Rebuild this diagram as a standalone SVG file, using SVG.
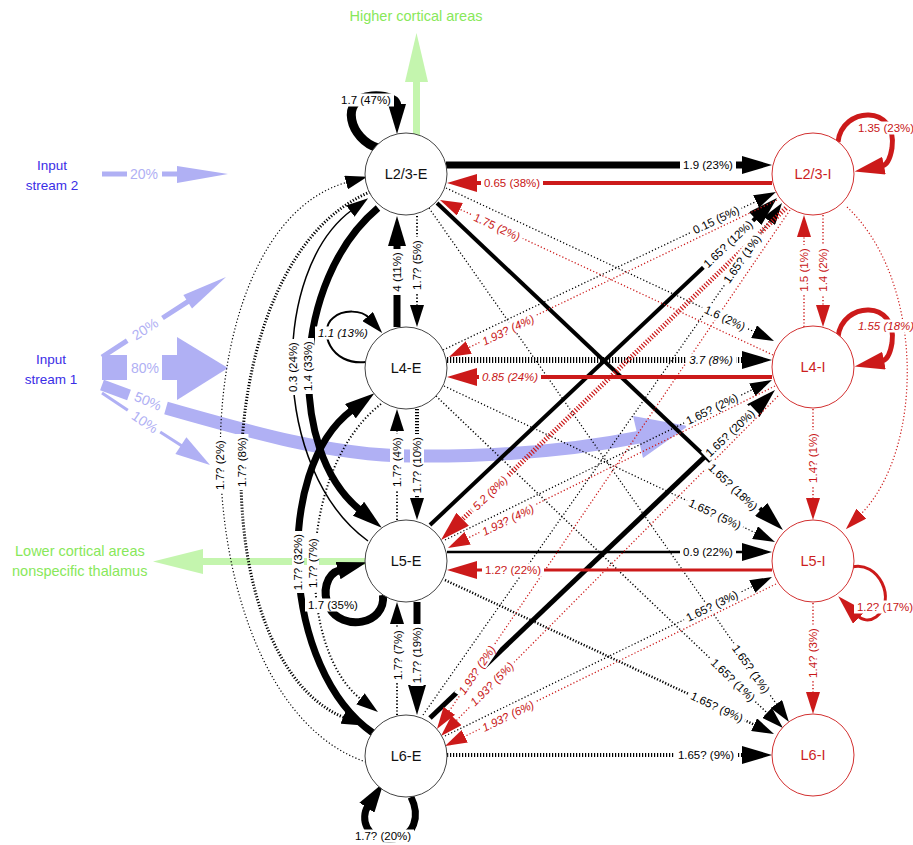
<svg xmlns="http://www.w3.org/2000/svg" width="913" height="845" viewBox="0 0 913 845">
<style>
  text { font-family: "Liberation Sans", Arial, sans-serif; }
  .nd { fill: #fff; stroke: #444; stroke-width: 1; }
  .ni { fill: #fff; stroke: #d23030; stroke-width: 1; }
  .nt { font-size: 14.5px; text-anchor: middle; fill: #111; }
  .nti { font-size: 14.5px; text-anchor: middle; fill: #cc1f1f; }
  .k { fill: none; stroke: #000; }
  .r { fill: none; stroke: #cc1a1a; }
  .dot { stroke-dasharray: 1.2 2.2; }
  .hat { stroke-dasharray: 1.2 1.8; }
  .bx { fill: #fff; }
  .lb { font-size: 11.5px; text-anchor: middle; fill: #000; }
  .lr { fill: #c81616; }
  .it { font-style: italic; }
  .lav { fill: #b0b0f4; }
  .lavs { fill: none; stroke: #b0b0f4; }
  .lavt { font-size: 14px; text-anchor: middle; fill: #b0b0f4; }
  .grn { fill: #c4f5ae; }
  .gt { font-size: 14.5px; fill: #88e85a; }
  .inp { font-size: 13.5px; text-anchor: middle; fill: #3a2ee6; }
</style>
<defs>
  <marker id="ak" viewBox="0 0 22 14" markerWidth="22" markerHeight="14" refX="2" refY="7" orient="auto" markerUnits="userSpaceOnUse"><path d="M0,0 L22,7 L0,14 z" fill="#000"/></marker>
  <marker id="akL" viewBox="0 0 30 18" markerWidth="30" markerHeight="18" refX="2" refY="9" orient="auto" markerUnits="userSpaceOnUse"><path d="M0,0 L30,9 L0,18 z" fill="#000"/></marker>
  <marker id="ar" viewBox="0 0 22 14" markerWidth="22" markerHeight="14" refX="2" refY="7" orient="auto" markerUnits="userSpaceOnUse"><path d="M0,0 L22,7 L0,14 z" fill="#cc1a1a"/></marker>
  <marker id="arL" viewBox="0 0 30 18" markerWidth="30" markerHeight="18" refX="2" refY="9" orient="auto" markerUnits="userSpaceOnUse"><path d="M0,0 L30,9 L0,18 z" fill="#cc1a1a"/></marker>
</defs>

<!-- input streams -->
<g id="inputs">
  <text class="inp" x="52" y="170">Input</text>
  <text class="inp" x="52" y="190">stream 2</text>
  <text class="inp" x="51" y="364">Input</text>
  <text class="inp" x="51" y="384">stream 1</text>
  <!-- stream 2 : 20% -->
  <rect class="lav" x="102" y="171.5" width="25" height="5"/>
  <rect class="lav" x="162" y="171.5" width="17" height="5"/>
  <polygon class="lav" points="177,166 228,174 177,183"/>
  <text class="lavt" x="144" y="174" dy=".35em">20%</text>
  <!-- stream 1 : 80% -->
  <rect class="lav" x="102" y="355" width="25" height="25"/>
  <rect class="lav" x="162" y="355" width="16" height="25"/>
  <polygon class="lav" points="177,337 228,368 177,400"/>
  <text class="lavt" x="145" y="368" dy=".35em">80%</text>
  <!-- stream 1 : 20% -->
  <path class="lavs" stroke-width="5" d="M102,357 L127.2,340.7 M162.5,318 L189.4,300.6"/>
  <polygon class="lav" points="192,308.4 226,277 183.4,295"/>
  <text class="lavt" transform="translate(145,329) rotate(-32.8)" dy=".35em">20%</text>
  <!-- stream 1 : 50% -->
  <path class="lavs" stroke-width="11" d="M102,385 L129,395"/>
  <path class="lavs" stroke-width="13" d="M166,408 C250,432 330,455 410,456 C500,457 580,449 640,437"/>
  <polygon class="lav" points="633,416 688,426 643,458"/>
  <text class="lavt" transform="translate(148,401) rotate(22)" dy=".35em">50%</text>
  <!-- stream 1 : 10% -->
  <path class="lavs" stroke-width="3" d="M102,393 L127.8,410.2 M160.2,431.9 L182,446"/>
  <polygon class="lav" points="175.4,453.9 210,465 186.4,437.3"/>
  <text class="lavt" transform="translate(145,422) rotate(33.7)" dy=".35em">10%</text>
</g>

<!-- outputs -->
<g id="outputs">
  <rect class="grn" x="413" y="80" width="7" height="56"/>
  <polygon class="grn" points="405,82 416.5,33 428,82"/>
  <text class="gt" x="416" y="21" text-anchor="middle">Higher cortical areas</text>
  <rect class="grn" x="200" y="558" width="168" height="7"/>
  <polygon class="grn" points="203,549 153,561.5 203,574"/>
  <text class="gt" x="15" y="556">Lower cortical areas</text>
  <text class="gt" x="12" y="576">nonspecific thalamus</text>
</g>

<g id="connectors">
  <!-- excitatory -> inhibitory, same layer -->
  <path class="k" stroke-width="7" d="M446,165 H744" marker-end="url(#akL)"/>
  <path class="k hat" stroke-width="6" d="M447,360 H744" marker-end="url(#akL)"/>
  <path class="k" stroke-width="2.5" d="M447,552 H744" marker-end="url(#akL)"/>
  <path class="k hat" stroke-width="4" d="M447,755 H744" marker-end="url(#akL)"/>
  <!-- excitatory column -->
  <path class="k" stroke-width="7" d="M397,327 V244" marker-end="url(#akL)"/>
  <path class="k dot" stroke-width="2" d="M417,216 V307" marker-end="url(#ak)"/>
  <path class="k dot" stroke-width="2" d="M397,520 V429" marker-end="url(#ak)"/>
  <path class="k hat" stroke-width="4" d="M417,409 V500" marker-end="url(#ak)"/>
  <path class="k dot" stroke-width="2" d="M397,715 V622" marker-end="url(#ak)"/>
  <path class="k" stroke-width="7" d="M417,602 V687" marker-end="url(#akL)"/>
  <!-- excitatory -> inhibitory, across layers -->
  <path class="k dot" stroke-width="1.3" d="M446,188 L755.9,332.5" marker-end="url(#ak)"/>
  <path class="k" stroke-width="4" d="M437,203 L762.6,510.8" marker-end="url(#akL)"/>
  <path class="k dot" stroke-width="1.3" d="M429,208 L777.5,705.6" marker-end="url(#ak)"/>
  <path class="k dot" stroke-width="1.3" d="M443,350 L757.9,200.6" marker-end="url(#ak)"/>
  <path class="k dot" stroke-width="1.3" d="M444,386 L756.9,533.5" marker-end="url(#ak)"/>
  <path class="k dot" stroke-width="1.5" d="M436,396 L768.5,714.2" marker-end="url(#ak)"/>
  <path class="k" stroke-width="4" d="M430,525 L756.6,217.2" marker-end="url(#akL)"/>
  <path class="k" stroke-width="5" d="M430,718 L754.7,409.3" marker-end="url(#akL)"/>
  <path class="k dot" stroke-width="1.3" d="M445,540 L754,388.8" marker-end="url(#ak)"/>
  <path class="k dot" stroke-width="1.3" d="M445,736 L754,585.7" marker-end="url(#ak)"/>
  <path class="k hat" stroke-width="2.5" d="M445,580 L755.9,725.5" marker-end="url(#ak)"/>
  <path class="k dot" stroke-width="1.3" d="M423,715 L770.5,219.4" marker-end="url(#ak)"/>
  <!-- long arcs on the excitatory side -->
  <path class="k" stroke-width="7" d="M378,208 C292,280 286,450 360,510" marker-end="url(#akL)"/>
  <path class="k" stroke-width="1.5" d="M368,541 C270,470 270,270 352,210" marker-end="url(#ak)"/>
  <path class="k dot" stroke-width="1.2" d="M366,762 C180,700 170,230 348,182" marker-end="url(#ak)"/>
  <path class="k hat" stroke-width="3" d="M370,192 C205,260 200,660 345,718" marker-end="url(#ak)"/>
  <path class="k" stroke-width="7" d="M373,733 C282,670 272,470 352,410" marker-end="url(#akL)"/>
  <path class="k dot" stroke-width="2" d="M381,404 C296,470 296,650 362,700" marker-end="url(#ak)"/>
  <!-- excitatory self loops -->
  <path class="k" stroke-width="9" d="M378,148 C350,140 338,98 372,96 C388,95 397,100 397,106" marker-end="url(#akL)"/>
  <path class="k" stroke-width="2" d="M366,362 C330,366 318,330 333,318 C343,309 362,310 369,318" marker-end="url(#ak)"/>
  <path class="k" stroke-width="8" d="M383,595 C386,625 342,632 329,607 C322,592 326,574 340,570" marker-end="url(#akL)"/>
  <path class="k" stroke-width="7" d="M411,797 C420,815 416,838 390,839 C366,840 360,818 368,806" marker-end="url(#akL)"/>
  <!-- inhibitory -> excitatory -->
  <path class="r" stroke-width="4" d="M772,183 H475" marker-end="url(#arL)"/>
  <path class="r" stroke-width="4" d="M772,377 H475" marker-end="url(#arL)"/>
  <path class="r" stroke-width="3" d="M772,570 H475" marker-end="url(#arL)"/>
  <path class="r dot" stroke-width="1.3" d="M773,355 L458.1,208.4" marker-end="url(#ar)"/>
  <path class="r dot" stroke-width="1.3" d="M777,200 L467,348.4" marker-end="url(#ar)"/>
  <path class="r hat" stroke-width="5" d="M786,208 L461.2,520.6" marker-end="url(#arL)"/>
  <path class="r dot" stroke-width="1.3" d="M775,386 L465.9,539.1" marker-end="url(#ar)"/>
  <path class="r dot" stroke-width="1.3" d="M790,210 L448.2,712.5" marker-end="url(#ar)"/>
  <path class="r dot" stroke-width="1.3" d="M778,396 L455.1,721.8" marker-end="url(#ar)"/>
  <path class="r dot" stroke-width="1.3" d="M776,584 L463,737.2" marker-end="url(#ar)"/>
  <!-- inhibitory column -->
  <path class="r dot" stroke-width="1.5" d="M804,327 V235" marker-end="url(#ar)"/>
  <path class="r dot" stroke-width="1.5" d="M823,215 V307" marker-end="url(#ar)"/>
  <path class="r dot" stroke-width="1.5" d="M813,409 V500" marker-end="url(#ar)"/>
  <path class="r dot" stroke-width="1.5" d="M813,603 V694" marker-end="url(#ar)"/>
  <path class="r dot" stroke-width="1.2" d="M847,207 C925,280 925,450 860,515" marker-end="url(#ar)"/>
  <!-- inhibitory self loops -->
  <path class="r" stroke-width="5" d="M838,142 C842,106 898,104 892,148 C890,160 887,165 882,166" marker-end="url(#arL)"/>
  <path class="r" stroke-width="5" d="M838,337 C842,301 898,299 892,343 C890,355 887,360 882,361" marker-end="url(#arL)"/>
  <path class="r" stroke-width="3" d="M852,567 C878,560 898,600 876,617 C869,622 862,620 858,616" marker-end="url(#arL)"/>
</g>

<g id="nodes">
  <g id="L23E"><circle class="nd" cx="406" cy="174" r="41"/><text class="nt" x="406" y="174" dy=".36em">L2/3-E</text></g>
  <g id="L4E"><circle class="nd" cx="406" cy="368" r="41"/><text class="nt" x="406" y="368" dy=".36em">L4-E</text></g>
  <g id="L5E"><circle class="nd" cx="406" cy="561" r="41"/><text class="nt" x="406" y="561" dy=".36em">L5-E</text></g>
  <g id="L6E"><circle class="nd" cx="406" cy="756" r="41"/><text class="nt" x="406" y="756" dy=".36em">L6-E</text></g>
  <g id="L23I"><circle class="ni" cx="813" cy="174" r="41"/><text class="nti" x="813" y="174" dy=".36em">L2/3-I</text></g>
  <g id="L4I"><circle class="ni" cx="813" cy="367" r="41"/><text class="nti" x="813" y="367" dy=".36em">L4-I</text></g>
  <g id="L5I"><circle class="ni" cx="813" cy="561" r="41"/><text class="nti" x="813" y="561" dy=".36em">L5-I</text></g>
  <g id="L6I"><circle class="ni" cx="813" cy="755" r="41"/><text class="nti" x="813" y="755" dy=".36em">L6-I</text></g>
</g>

<!-- connector labels, each on a white box that breaks the line underneath -->
<g id="connector-labels">
  <g transform="translate(708,165)"><rect class="bx" x="-28" y="-6.5" width="56" height="13"/><text class="lb" dy=".35em">1.9 (23%)</text></g>
  <g transform="translate(711,360)"><rect class="bx" x="-25" y="-6.5" width="50" height="13"/><text class="lb it" dy=".35em">3.7 (8%)</text></g>
  <g transform="translate(708,552)"><rect class="bx" x="-28" y="-6.5" width="56" height="13"/><text class="lb" dy=".35em">0.9 (22%)</text></g>
  <g transform="translate(706,755)"><rect class="bx" x="-31" y="-6.5" width="62" height="13"/><text class="lb" dy=".35em">1.65? (9%)</text></g>
  <g transform="translate(397,272) rotate(-90)"><rect class="bx" x="-23" y="-6.5" width="46" height="13"/><text class="lb" dy=".35em">4 (11%)</text></g>
  <g transform="translate(417,265) rotate(-90)"><rect class="bx" x="-28" y="-6.5" width="56" height="13"/><text class="lb" dy=".35em">1.7? (5%)</text></g>
  <g transform="translate(397,462) rotate(-90)"><rect class="bx" x="-28" y="-7" width="56" height="14"/><text class="lb" dy=".35em">1.7? (4%)</text></g>
  <g transform="translate(417,465) rotate(-90)"><rect class="bx" x="-31" y="-7" width="62" height="14"/><text class="lb" dy=".35em">1.7? (10%)</text></g>
  <g transform="translate(398,655) rotate(-90)"><rect class="bx" x="-28" y="-6.5" width="56" height="13"/><text class="lb" dy=".35em">1.7? (7%)</text></g>
  <g transform="translate(417,655) rotate(-90)"><rect class="bx" x="-31" y="-6.5" width="62" height="13"/><text class="lb" dy=".35em">1.7? (19%)</text></g>
  <g transform="translate(725,318) rotate(25)"><rect class="bx" x="-25" y="-6.5" width="50" height="13"/><text class="lb" dy=".35em">1.6 (2%)</text></g>
  <g transform="translate(733,487) rotate(43.4)"><rect class="bx" x="-34" y="-6.5" width="68" height="13"/><text class="lb" dy=".35em">1.65? (18%)</text></g>
  <g transform="translate(751,669) rotate(55)"><rect class="bx" x="-31" y="-6.5" width="62" height="13"/><text class="lb" dy=".35em">1.65? (1%)</text></g>
  <g transform="translate(716,220) rotate(-25.4)"><rect class="bx" x="-28" y="-6.5" width="56" height="13"/><text class="lb" dy=".35em">0.15 (5%)</text></g>
  <g transform="translate(715,514) rotate(25.2)"><rect class="bx" x="-31" y="-6.5" width="62" height="13"/><text class="lb" dy=".35em">1.65? (5%)</text></g>
  <g transform="translate(733,680) rotate(43.7)"><rect class="bx" x="-31" y="-6.5" width="62" height="13"/><text class="lb" dy=".35em">1.65? (1%)</text></g>
  <g transform="translate(728,244) rotate(-43.3)"><rect class="bx" x="-34" y="-6.5" width="68" height="13"/><text class="lb" dy=".35em">1.65? (12%)</text></g>
  <g transform="translate(730,433) rotate(-43.6)"><rect class="bx" x="-34" y="-6.5" width="68" height="13"/><text class="lb" dy=".35em">1.65? (20%)</text></g>
  <g transform="translate(712,409) rotate(-26.1)"><rect class="bx" x="-31" y="-6.5" width="62" height="13"/><text class="lb" dy=".35em">1.65? (2%)</text></g>
  <g transform="translate(712,606) rotate(-25.9)"><rect class="bx" x="-31" y="-6.5" width="62" height="13"/><text class="lb" dy=".35em">1.65? (3%)</text></g>
  <g transform="translate(717,707) rotate(25.1)"><rect class="bx" x="-31" y="-6.5" width="62" height="13"/><text class="lb" dy=".35em">1.65? (9%)</text></g>
  <g transform="translate(742,259) rotate(-55)"><rect class="bx" x="-31" y="-6.5" width="62" height="13"/><text class="lb" dy=".35em">1.65? (1%)</text></g>
  <g transform="translate(220,465) rotate(-90)"><rect class="bx" x="-28" y="-6.5" width="56" height="13"/><text class="lb" dy=".35em">1.7? (2%)</text></g>
  <g transform="translate(242,462) rotate(-90)"><rect class="bx" x="-28" y="-6.5" width="56" height="13"/><text class="lb" dy=".35em">1.7? (8%)</text></g>
  <g transform="translate(293,367) rotate(-90)"><rect class="bx" x="-28" y="-6" width="56" height="12"/><text class="lb" dy=".35em">0.3 (24%)</text></g>
  <g transform="translate(308,366) rotate(-90)"><rect class="bx" x="-28" y="-6" width="56" height="12"/><text class="lb" dy=".35em">1.4 (33%)</text></g>
  <g transform="translate(298,562) rotate(-90)"><rect class="bx" x="-31" y="-6" width="62" height="12"/><text class="lb" dy=".35em">1.7? (32%)</text></g>
  <g transform="translate(313,563) rotate(-90)"><rect class="bx" x="-28" y="-6" width="56" height="12"/><text class="lb" dy=".35em">1.7? (7%)</text></g>
  <g transform="translate(366,100)"><rect class="bx" x="-28" y="-6.5" width="56" height="13"/><text class="lb" dy=".35em">1.7 (47%)</text></g>
  <g transform="translate(343,333)"><rect class="bx" x="-28" y="-6.5" width="56" height="13"/><text class="lb it" dy=".35em">1.1 (13%)</text></g>
  <g transform="translate(333,605)"><rect class="bx" x="-28" y="-6.5" width="56" height="13"/><text class="lb" dy=".35em">1.7 (35%)</text></g>
  <g transform="translate(383,836)"><rect class="bx" x="-31" y="-6.5" width="62" height="13"/><text class="lb" dy=".35em">1.7? (20%)</text></g>
  <g transform="translate(512,183)"><rect class="bx" x="-31" y="-6.5" width="62" height="13"/><text class="lb lr" dy=".35em">0.65 (38%)</text></g>
  <g transform="translate(510,377)"><rect class="bx" x="-31" y="-6.5" width="62" height="13"/><text class="lb lr it" dy=".35em">0.85 (24%)</text></g>
  <g transform="translate(513,570)"><rect class="bx" x="-31" y="-6.5" width="62" height="13"/><text class="lb lr" dy=".35em">1.2? (22%)</text></g>
  <g transform="translate(497,227) rotate(24.9)"><rect class="bx" x="-28" y="-6.5" width="56" height="13"/><text class="lb lr" dy=".35em">1.75 (2%)</text></g>
  <g transform="translate(508,330) rotate(-25.6)"><rect class="bx" x="-31" y="-6.5" width="62" height="13"/><text class="lb lr it" dy=".35em">1.93? (4%)</text></g>
  <g transform="translate(490,493) rotate(-43.9)"><rect class="bx" x="-25" y="-6.5" width="50" height="13"/><text class="lb lr it" dy=".35em">5.2 (8%)</text></g>
  <g transform="translate(508,520) rotate(-26.3)"><rect class="bx" x="-31" y="-6.5" width="62" height="13"/><text class="lb lr it" dy=".35em">1.93? (4%)</text></g>
  <g transform="translate(477,670) rotate(-55.8)"><rect class="bx" x="-31" y="-6.5" width="62" height="13"/><text class="lb lr it" dy=".35em">1.93? (2%)</text></g>
  <g transform="translate(492,684) rotate(-45.3)"><rect class="bx" x="-31" y="-6.5" width="62" height="13"/><text class="lb lr it" dy=".35em">1.93? (5%)</text></g>
  <g transform="translate(508,716) rotate(-26.1)"><rect class="bx" x="-31" y="-6.5" width="62" height="13"/><text class="lb lr it" dy=".35em">1.93? (6%)</text></g>
  <g transform="translate(804,270) rotate(-90)"><rect class="bx" x="-25" y="-6" width="50" height="12"/><text class="lb lr" dy=".35em">1.5 (1%)</text></g>
  <g transform="translate(823,270) rotate(-90)"><rect class="bx" x="-25" y="-6" width="50" height="12"/><text class="lb lr" dy=".35em">1.4 (2%)</text></g>
  <g transform="translate(813,458) rotate(-90)"><rect class="bx" x="-28" y="-6.5" width="56" height="13"/><text class="lb lr" dy=".35em">1.4? (1%)</text></g>
  <g transform="translate(813,653) rotate(-90)"><rect class="bx" x="-28" y="-6.5" width="56" height="13"/><text class="lb lr" dy=".35em">1.4? (3%)</text></g>
  <g transform="translate(886,128)"><rect class="bx" x="-31" y="-6.5" width="62" height="13"/><text class="lb lr" dy=".35em">1.35 (23%)</text></g>
  <g transform="translate(886,326)"><rect class="bx" x="-31" y="-6.5" width="62" height="13"/><text class="lb lr it" dy=".35em">1.55 (18%)</text></g>
  <g transform="translate(885,607)"><rect class="bx" x="-31" y="-6.5" width="62" height="13"/><text class="lb lr" dy=".35em">1.2? (17%)</text></g>
</g>
</svg>
